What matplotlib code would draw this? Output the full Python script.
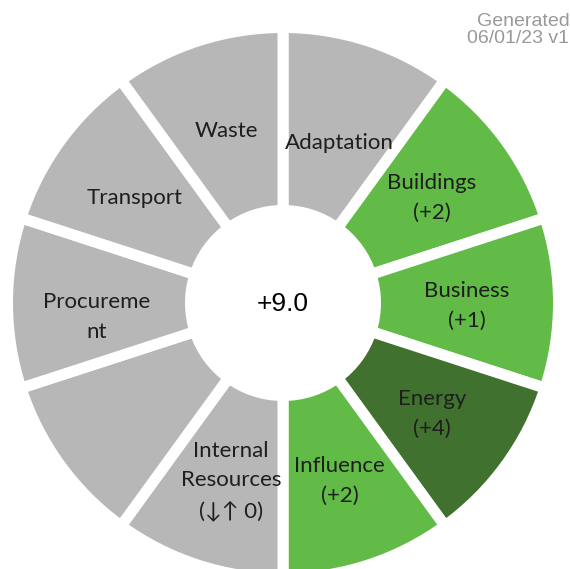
import numpy as np
import matplotlib
matplotlib.use("Agg")
import matplotlib.pyplot as plt

categories = ["Adaptation", "Buildings", "Business", "Energy", "Influence",
              "Internal Resources", "", "Procurement", "Transport", "Waste"]
labels = ["Adaptation", "Buildings\n(+2)", "Business\n(+1)", "Energy\n(+4)",
          "Influence\n(+2)", "Internal\nResources\n(\u2193\u2191 0)", "",
          "Procureme\nnt", "Transport", "Waste"]
sizes = [1] * len(categories)
colors = ["#b7b7b7", "#62bb47", "#62bb47", "#40712f", "#62bb47",
          "#b7b7b7", "#b7b7b7", "#b7b7b7", "#b7b7b7", "#b7b7b7"]
total_text = "+9.0"
stamp = "Generated\n06/01/23 v1"

W, H, DPI = 570, 569, 100
cx, cy = 283, 303          # centre in pixels (from top-left)
R = 270.0                  # px per data unit (outer radius)
gap_px = 11
inner_px = 98

# label nudges in pixels (dx, dy down)
nudge = {"Adaptation": (0, 15), "Procurement": (-2, 14),
         "Internal Resources": (5, 3)}

fig = plt.figure(figsize=(W / DPI, H / DPI), dpi=DPI)
ax = fig.add_axes([0, 0, 1, 1])

half = gap_px / 2 / R
wedges, _ = ax.pie(sizes, colors=colors, startangle=90, counterclock=False,
                   radius=1 + half,
                   wedgeprops=dict(width=1 + half - (inner_px / R - half),
                                   edgecolor="white",
                                   linewidth=gap_px * 72 / DPI))
ax.set_xlim(-cx / R, (W - cx) / R)
ax.set_ylim(-(H - cy) / R, cy / R)
ax.set_aspect("auto")
ax.axis("off")

fam = ["Lato", "DejaVu Sans"]
rmid = (1 + inner_px / R) / 2
for w, lab, cat in zip(wedges, labels, categories):
    if not lab:
        continue
    ang = np.deg2rad((w.theta1 + w.theta2) / 2)
    dx, dy = nudge.get(cat, (0, 3))
    x = rmid * np.cos(ang) + dx / R
    y = rmid * np.sin(ang) - dy / R
    ax.text(x, y, lab, ha="center", va="center", fontsize=16,
            family=fam, color="#1e1e1e", linespacing=1.6)

ax.text(0, -1 / R, total_text, ha="center", va="center", fontsize=19,
        family=["Liberation Sans", "DejaVu Sans"], color="black")

fig.text(0.999, 0.978, stamp, ha="right", va="top", fontsize=14,
         family=["Liberation Sans", "DejaVu Sans"], color="#999999",
         linespacing=1.0)

fig.savefig("out.png", dpi=DPI, facecolor="white")
